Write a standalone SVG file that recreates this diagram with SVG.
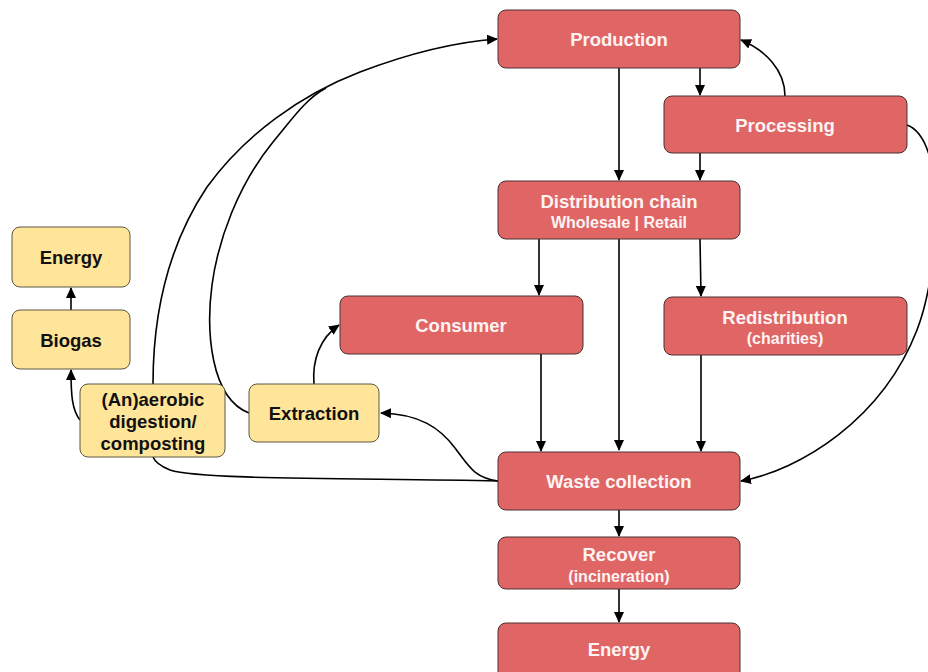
<svg xmlns="http://www.w3.org/2000/svg" width="928" height="672" viewBox="0 0 928 672">
  <style>
    .red rect { fill: #e06666; stroke: #4a3030; stroke-width: 1; }
    .yel rect { fill: #ffe599; stroke: #5e5640; stroke-width: 1; }
    text { font-family: "Liberation Sans", Arial, sans-serif; font-weight: bold; text-anchor: middle; }
    .red text { fill: #fdf3f3; }
    .yel text { fill: #111111; }
    .t { font-size: 18.5px; }
    .s { font-size: 16px; }
    .c path { fill: none; stroke: #000; stroke-width: 1.6; }
    .a { marker-end: url(#arrow); }
  </style>
  <defs>
    <marker id="arrow" markerUnits="userSpaceOnUse" markerWidth="12" markerHeight="10" refX="10" refY="5" orient="auto">
      <path d="M0,0 L11,5 L0,10 Z" fill="#000"/>
    </marker>
  </defs>
  <rect width="928" height="672" fill="#ffffff"/>

  <g id="connectors" class="c">
    <path class="a" d="M619,68 L619,180"/>
    <path class="a" d="M700,68 L700,95"/>
    <path class="a" d="M700,153 L700,180"/>
    <path class="a" d="M785,96 C785,70 765,50 741,40"/>
    <path class="a" d="M907,125 C948,140 940,270 917,330 C882,420 800,470 741,481"/>
    <path class="a" d="M539,239 L539,295"/>
    <path class="a" d="M619,239 L619,450"/>
    <path class="a" d="M700,239 L701,296"/>
    <path class="a" d="M541,354 L541,451"/>
    <path class="a" d="M701,355 L701,451"/>
    <path class="a" d="M619,510 L619,536"/>
    <path class="a" d="M619,589 L619,622"/>
    <path class="a" d="M498,481 C475,478 470,468 455,448 C440,428 420,414 381,413"/>
    <path d="M498,481 C360,478 200,480 170,470 C160,466 155,462 153,457"/>
    <path class="a" d="M80,420 C72,410 71,395 71,370"/>
    <path class="a" d="M71,310 L71,288"/>
    <path class="a" d="M153,384 C153,300 175,235 207,187 C245,135 300,95 360,72 C410,53 455,42 497,39"/>
    <path d="M249,413 C210,398 206,330 212,285 C218,240 238,185 273,142 C290,122 305,99 326,88"/>
    <path class="a" d="M314,384 C312,360 320,338 339,325"/>
  </g>

  <g id="production" class="red">
    <rect x="498" y="10" width="242" height="58" rx="8"/>
    <text class="t" x="619" y="46">Production</text>
  </g>
  <g id="processing" class="red">
    <rect x="664" y="96" width="243" height="57" rx="8"/>
    <text class="t" x="785" y="132">Processing</text>
  </g>
  <g id="distribution" class="red">
    <rect x="498" y="181" width="242" height="58" rx="8"/>
    <text class="t" x="619" y="208">Distribution chain</text>
    <text class="s" x="619" y="228">Wholesale | Retail</text>
  </g>
  <g id="consumer" class="red">
    <rect x="340" y="296" width="243" height="58" rx="8"/>
    <text class="t" x="461" y="332">Consumer</text>
  </g>
  <g id="redistribution" class="red">
    <rect x="664" y="297" width="243" height="58" rx="8"/>
    <text class="t" x="785" y="324">Redistribution</text>
    <text class="s" x="785" y="344">(charities)</text>
  </g>
  <g id="waste" class="red">
    <rect x="498" y="452" width="242" height="58" rx="8"/>
    <text class="t" x="619" y="488">Waste collection</text>
  </g>
  <g id="recover" class="red">
    <rect x="498" y="537" width="242" height="52" rx="8"/>
    <text class="t" x="619" y="561">Recover</text>
    <text class="s" x="619" y="582">(incineration)</text>
  </g>
  <g id="energy-red" class="red">
    <rect x="498" y="623" width="242" height="58" rx="8"/>
    <text class="t" x="619" y="656">Energy</text>
  </g>

  <g id="energy-yellow" class="yel">
    <rect x="12" y="227" width="118" height="60" rx="8"/>
    <text class="t" x="71" y="264">Energy</text>
  </g>
  <g id="biogas" class="yel">
    <rect x="12" y="310" width="118" height="59" rx="8"/>
    <text class="t" x="71" y="347">Biogas</text>
  </g>
  <g id="digestion" class="yel">
    <rect x="80" y="384" width="145" height="73" rx="8"/>
    <text class="t" x="153" y="406">(An)aerobic</text>
    <text class="t" x="153" y="428">digestion/</text>
    <text class="t" x="153" y="450">composting</text>
  </g>
  <g id="extraction" class="yel">
    <rect x="249" y="384" width="130" height="58" rx="8"/>
    <text class="t" x="314" y="420">Extraction</text>
  </g>
</svg>
